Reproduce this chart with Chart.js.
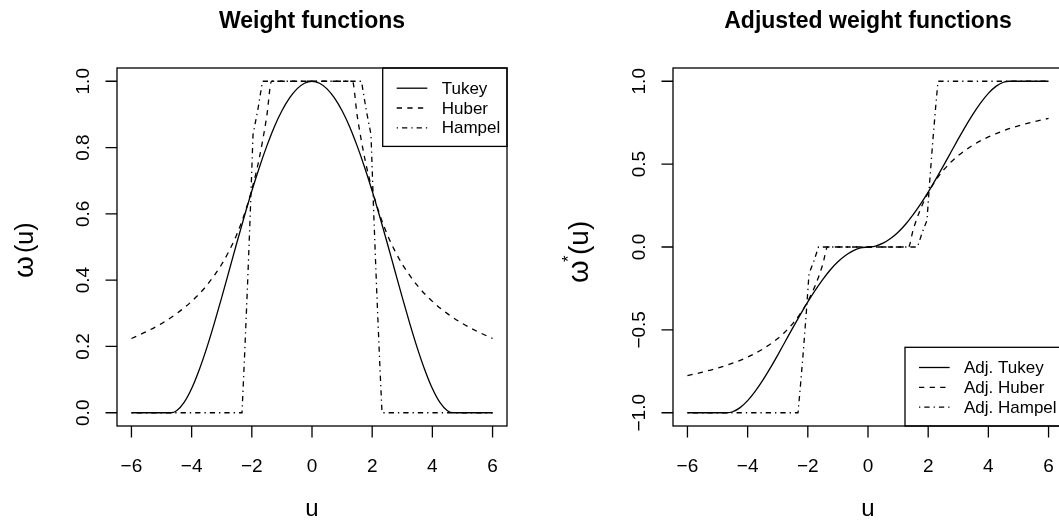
<!DOCTYPE html>
<html>
<head>
<meta charset="utf-8">
<script src="https://cdn.jsdelivr.net/npm/chart.js@4.4.1/dist/chart.umd.min.js"></script>
<style>
  html, body { margin: 0; padding: 0; background: #fff; overflow: hidden; width: 1059px; height: 520px; }
  #weights { position: absolute; left: 0; top: 0; }
  #adjusted { position: absolute; left: 530px; top: 0; }
</style>
</head>
<body>
<canvas id="weights" width="530" height="520"></canvas>
<canvas id="adjusted" width="540" height="520"></canvas>
<script>
// Axis ticks (both panels share the u axis)
const xTicks = [-6, -4, -2, 0, 2, 4, 6];
const xTickLabels = ['\u22126', '\u22124', '\u22122', '0', '2', '4', '6'];
const yTicksLeft = [0, 0.2, 0.4, 0.6, 0.8, 1];
const yTickLabelsLeft = ['0.0', '0.2', '0.4', '0.6', '0.8', '1.0'];
const yTicksRight = [-1, -0.5, 0, 0.5, 1];
const yTickLabelsRight = ['\u22121.0', '\u22120.5', '0.0', '0.5', '1.0'];

const legendLeft = ['Tukey', 'Huber', 'Hampel'];
const legendRight = ['Adj. Tukey', 'Adj. Huber', 'Adj. Hampel'];

// Weight functions, values
const uTukey = [-6, -4.685, -4.5, -4.25, -4, -3.75, -3.5, -3.25, -3, -2.75, -2.5, -2.25, -2, -1.75, -1.5, -1.25, -1, -0.75, -0.5, -0.25,
  0, 0.25, 0.5, 0.75, 1, 1.25, 1.5, 1.75, 2, 2.25, 2.5, 2.75, 3, 3.25, 3.5, 3.75, 4, 4.25, 4.5, 4.685, 6];
const wTukey = [0, 0, 0.006, 0.031, 0.073, 0.129, 0.195, 0.269, 0.348, 0.430, 0.512, 0.592, 0.669, 0.740, 0.805, 0.863, 0.911, 0.949, 0.977, 0.994,
  1, 0.994, 0.977, 0.949, 0.911, 0.863, 0.805, 0.740, 0.669, 0.592, 0.512, 0.430, 0.348, 0.269, 0.195, 0.129, 0.073, 0.031, 0.006, 0, 0];

const uHuber = [-6, -5.5, -5, -4.5, -4, -3.5, -3, -2.75, -2.5, -2.25, -2, -1.75, -1.5, -1.345,
  1.345, 1.5, 1.75, 2, 2.25, 2.5, 2.75, 3, 3.5, 4, 4.5, 5, 5.5, 6];
const wHuber = [0.224, 0.245, 0.269, 0.299, 0.336, 0.384, 0.448, 0.489, 0.538, 0.598, 0.673, 0.769, 0.897, 1,
  1, 0.897, 0.769, 0.673, 0.598, 0.538, 0.489, 0.448, 0.384, 0.336, 0.299, 0.269, 0.245, 0.224];

const uHampel = [-6, -2.326, -2.25, -2.15, -2.05, -1.96, -1.8, -1.645, 1.645, 1.8, 1.96, 2.05, 2.15, 2.25, 2.326, 6];
const wHampel = [0, 0, 0.152, 0.368, 0.605, 0.839, 0.914, 1, 1, 0.914, 0.839, 0.605, 0.368, 0.152, 0, 0];

// Adjusted weight functions
const wAdjTukey = [-1, -1, -0.994, -0.969, -0.927, -0.871, -0.805, -0.731, -0.652, -0.570, -0.488, -0.408, -0.331, -0.260, -0.195, -0.137, -0.089, -0.051, -0.023, -0.006,
  0, 0.006, 0.023, 0.051, 0.089, 0.137, 0.195, 0.260, 0.331, 0.408, 0.488, 0.570, 0.652, 0.731, 0.805, 0.871, 0.927, 0.969, 0.994, 1, 1];
const wAdjHuber = [-0.776, -0.755, -0.731, -0.701, -0.664, -0.616, -0.552, -0.511, -0.462, -0.402, -0.327, -0.231, -0.103, 0,
  0, 0.103, 0.231, 0.327, 0.402, 0.462, 0.511, 0.552, 0.616, 0.664, 0.701, 0.731, 0.755, 0.776];
const wAdjHampel = [-1, -1, -0.848, -0.632, -0.395, -0.161, -0.086, 0, 0, 0.086, 0.161, 0.395, 0.632, 0.848, 1, 1];

const FONT = '"Liberation Sans", Arial, Helvetica, sans-serif';
const DASH_SOLID = [];
const DASH_HUBER = [5.3, 5.3];
const DASH_HAMPEL = [1.3, 4, 5.3, 4];
const dashes = [DASH_SOLID, DASH_HUBER, DASH_HAMPEL];

function pts(us, ws) {
  return us.map((u, i) => ({ x: u, y: ws[i] }));
}

function series(us, ws, dash, smooth) {
  return {
    data: pts(us, ws),
    showLine: true,
    borderColor: '#000',
    borderWidth: 1.3,
    borderDash: dash,
    pointRadius: 0,
    fill: false,
    cubicInterpolationMode: smooth ? 'monotone' : 'default',
    tension: 0
  };
}

// draws the R-style frame, ticks, texts and legend around the plot
const rFrame = {
  id: 'rFrame',
  afterDatasetsDraw(chart, args, o) {
    const ctx = chart.ctx;
    const a = chart.chartArea;
    const xs = chart.scales.x;
    const ys = chart.scales.y;
    ctx.save();
    ctx.strokeStyle = '#000';
    ctx.fillStyle = '#000';
    ctx.lineWidth = 1.3;
    ctx.setLineDash([]);
    ctx.strokeRect(a.left, a.top, a.right - a.left, a.bottom - a.top);

    // tick marks
    ctx.beginPath();
    xTicks.forEach(v => {
      const p = xs.getPixelForValue(v);
      ctx.moveTo(p, a.bottom);
      ctx.lineTo(p, a.bottom + 11.5);
    });
    o.yTicks.forEach(v => {
      const p = ys.getPixelForValue(v);
      ctx.moveTo(a.left, p);
      ctx.lineTo(a.left - 11.5, p);
    });
    ctx.stroke();

    // tick labels
    ctx.font = '19px ' + FONT;
    ctx.textAlign = 'center';
    ctx.textBaseline = 'alphabetic';
    xTicks.forEach((v, i) => ctx.fillText(xTickLabels[i], xs.getPixelForValue(v), 472));
    o.yTicks.forEach((v, i) => {
      ctx.save();
      ctx.translate(a.left - 28, ys.getPixelForValue(v));
      ctx.rotate(-Math.PI / 2);
      ctx.fillText(o.yTickLabels[i], 0, 0);
      ctx.restore();
    });

    // main title
    const cx = (a.left + a.right) / 2;
    ctx.font = 'bold 23px ' + FONT;
    ctx.fillText(o.title, cx, 27.5);

    // x title
    ctx.font = '24px ' + FONT;
    ctx.fillText('u', cx, 516);

    // y title, built from pieces like R's plotmath
    const cy = (a.top + a.bottom) / 2;
    ctx.save();
    ctx.translate(a.left - o.yTitleGap, cy);
    ctx.rotate(-Math.PI / 2);
    ctx.textAlign = 'left';
    o.yTitle.forEach(pc => {
      ctx.font = pc.size + 'px ' + FONT;
      ctx.fillText(pc.t, pc.x, pc.dy || 0);
    });
    ctx.restore();

    // legend
    const lg = o.legend;
    const lx = a.right - lg.w;
    const ly = lg.atTop ? a.top : a.bottom - lg.h;
    ctx.strokeRect(lx, ly, lg.w, lg.h);
    ctx.font = '17px ' + FONT;
    ctx.textAlign = 'left';
    ctx.textBaseline = 'middle';
    lg.labels.forEach((lab, i) => {
      const y = ly + 20.2 + i * 19.8;
      ctx.setLineDash(dashes[i]);
      ctx.beginPath();
      ctx.moveTo(lx + 14, y);
      ctx.lineTo(lx + 44.6, y);
      ctx.stroke();
      ctx.setLineDash([]);
      ctx.fillText(lab, lx + 59, y + 1);
    });
    ctx.restore();
  }
};

function makeChart(id, datasets, yMin, yMax, padding, frame) {
  return new Chart(document.getElementById(id), {
    type: 'scatter',
    data: { datasets: datasets },
    options: {
      responsive: false,
      animation: false,
      devicePixelRatio: 1,
      events: [],
      layout: { padding: padding },
      scales: {
        x: { type: 'linear', min: -6.48, max: 6.48, display: false },
        y: { type: 'linear', min: yMin, max: yMax, display: false }
      },
      plugins: {
        legend: { display: false },
        tooltip: { enabled: false },
        rFrame: frame
      }
    },
    plugins: [rFrame]
  });
}

makeChart('weights', [
  series(uHampel, wHampel, DASH_HAMPEL, false),
  series(uHuber, wHuber, DASH_HUBER, true),
  series(uTukey, wTukey, DASH_SOLID, true)
], -0.04, 1.04, { left: 117, right: 23, top: 68, bottom: 94 }, {
  title: 'Weight functions',
  yTicks: yTicksLeft,
  yTickLabels: yTickLabelsLeft,
  yTitleGap: 84,
  yTitle: [
    { t: '\u03c9', size: 28, x: -31 },
    { t: '(u)', size: 25, x: -6 }
  ],
  legend: { labels: legendLeft, w: 124.3, h: 78.4, atTop: true }
});

makeChart('adjusted', [
  series(uHampel, wAdjHampel, DASH_HAMPEL, false),
  series(uHuber, wAdjHuber, DASH_HUBER, true),
  series(uTukey, wAdjTukey, DASH_SOLID, true)
], -1.08, 1.08, { left: 143, right: 7, top: 68, bottom: 94 }, {
  title: 'Adjusted weight functions',
  yTicks: yTicksRight,
  yTickLabels: yTickLabelsRight,
  yTitleGap: 85,
  yTitle: [
    { t: '\u03c9', size: 29, x: -36 },
    { t: '*', size: 17, x: -15, dy: -14 },
    { t: '(u)', size: 28, x: -8 }
  ],
  legend: { labels: legendRight, w: 158, h: 78.7, atTop: false }
});
</script>
</body>
</html>
